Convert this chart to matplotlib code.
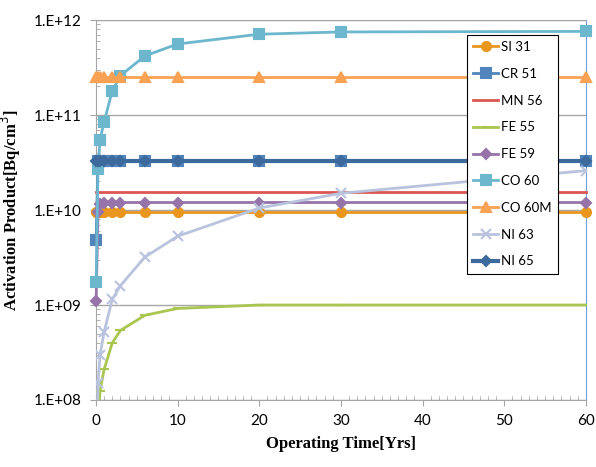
import numpy as np
import matplotlib.pyplot as plt
from matplotlib.ticker import FixedLocator, FuncFormatter, LogLocator, MultipleLocator

# operating time points [yrs]
years = [0.02, 0.25, 0.5, 1, 2, 3, 6, 10, 20, 30, 60]

# activation product [Bq/cm3]
si31 = [9.5e9] * 11
cr51 = [4.8e9, 3.25e10, 3.3e10, 3.3e10, 3.3e10, 3.3e10, 3.3e10, 3.3e10, 3.3e10, 3.3e10, 3.3e10]
mn56 = [1.55e10] * 11
fe55 = [5e6, 6e7, 1.25e8, 2.1e8, 4.0e8, 5.4e8, 7.8e8, 9.2e8, 1.0e9, 1.0e9, 1.0e9]
fe59 = [1.1e9, 9.5e9, 1.15e10, 1.2e10, 1.2e10, 1.2e10, 1.2e10, 1.2e10, 1.2e10, 1.2e10, 1.2e10]
co60 = [1.75e9, 2.7e10, 5.5e10, 8.5e10, 1.8e11, 2.6e11, 4.2e11, 5.6e11, 7.1e11, 7.5e11, 7.6e11]
co60m = [2.5e11] * 11
ni63 = [1.1e7, 1.5e8, 3.0e8, 5.2e8, 1.15e9, 1.6e9, 3.2e9, 5.3e9, 1.05e10, 1.5e10, 2.6e10]
ni65 = [3.3e10] * 11

series = [
    ('SI 31', si31, '#E8961E', 'o', 2.0, True),
    ('CR 51', cr51, '#5284BC', 's', 2.0, True),
    ('MN 56', mn56, '#DA5753', None, 2.0, True),
    ('FE 55', fe55, '#A9C650', '_', 2.0, False),
    ('FE 59', fe59, '#9673A8', 'D', 2.0, True),
    ('CO 60', co60, '#6CB7CE', 's', 2.0, True),
    ('CO 60M', co60m, '#F9A253', '^', 2.0, True),
    ('NI 63', ni63, '#B9C3DD', 'x', 2.0, False),
    ('NI 65', ni65, '#3C6A9C', 'D', 3.0, True),
]

fig = plt.figure(figsize=(5.96, 4.67), dpi=100)
ax = fig.add_axes([0.161, 0.1435, 0.822, 0.8135])

for name, vals, col, mk, lw, noclip in series:
    ms = 6.5
    if mk == 'D':
        ms = 5
    if mk == '_':
        ms = 7
    ax.plot(years, vals, color=col, lw=lw, marker=mk, ms=ms, mew=1.5,
            label=name, clip_on=not noclip, zorder=3)

ax.set_yscale('log')
ax.set_xlim(0, 60)
ax.set_ylim(1e8, 1e12)
ax.xaxis.set_major_locator(MultipleLocator(10))
ax.xaxis.set_minor_locator(MultipleLocator(1))
ax.yaxis.set_major_locator(FixedLocator([1e8, 1e9, 1e10, 1e11, 1e12]))
ax.yaxis.set_minor_locator(LogLocator(base=10, subs=np.arange(2, 10)))
ax.yaxis.set_major_formatter(FuncFormatter(lambda v, p: '1.E+%02d' % round(np.log10(v))))
ax.yaxis.set_minor_formatter(FuncFormatter(lambda v, p: ''))

ax.grid(axis='y', which='major', color='#A6A6A6', lw=1)
ax.set_axisbelow(True)
for s in ['left', 'bottom', 'top']:
    ax.spines[s].set_color('#A6A6A6')
ax.spines['right'].set_color('#6F9FD8')
ax.tick_params(which='major', direction='out', length=4, color='#A6A6A6',
               labelsize=11, pad=6)
ax.tick_params(which='minor', direction='in', length=3, color='#A6A6A6')
ax.tick_params(axis='x', which='minor', top=False)
for lab in ax.get_xticklabels() + ax.get_yticklabels():
    lab.set_family('Lato')

ax.set_xlabel('Operating Time[Yrs]', family='Liberation Serif', weight='bold',
              fontsize=12, labelpad=6)
ax.set_ylabel('Activation Product[Bq/cm$^3$]', family='Liberation Serif',
              weight='bold', fontsize=12, labelpad=8)

leg = ax.legend(loc='upper left', bbox_to_anchor=(0.757, 0.962), borderaxespad=0,
                fancybox=False, edgecolor='black', framealpha=1, borderpad=0.5,
                labelspacing=1.12, handlelength=1.9, handletextpad=0.2,
                prop={'family': 'Lato', 'size': 9.5})
leg.get_frame().set_linewidth(0.8)
leg.set_zorder(5)

fig.savefig('out.png', dpi=100)
